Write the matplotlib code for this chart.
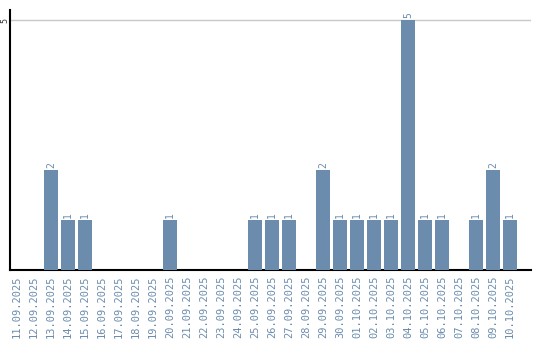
import matplotlib
matplotlib.use("Agg")
import matplotlib.pyplot as plt

dates = ["11.09.2025", "12.09.2025", "13.09.2025", "14.09.2025", "15.09.2025",
         "16.09.2025", "17.09.2025", "18.09.2025", "19.09.2025", "20.09.2025",
         "21.09.2025", "22.09.2025", "23.09.2025", "24.09.2025", "25.09.2025",
         "26.09.2025", "27.09.2025", "28.09.2025", "29.09.2025", "30.09.2025",
         "01.10.2025", "02.10.2025", "03.10.2025", "04.10.2025", "05.10.2025",
         "06.10.2025", "07.10.2025", "08.10.2025", "09.10.2025", "10.10.2025"]
counts = [0, 0, 2, 1, 1, 0, 0, 0, 0, 1,
          0, 0, 0, 0, 1, 1, 1, 0, 2, 1,
          1, 1, 1, 5, 1, 1, 0, 1, 2, 1]

bar_color = "#6b8cad"
text_color = "#6b8cad"

fig = plt.figure(figsize=(5.4, 3.4), dpi=100)
ax = fig.add_axes([10.3 / 540, 70 / 340, 520.4 / 540, 260 / 340])

x = list(range(len(dates)))
ax.bar(x, counts, width=0.82, color=bar_color, zorder=3)
for xi, c in zip(x, counts):
    if c > 0:
        ax.text(xi, c + 0.05, str(c), rotation=90, ha="center", va="bottom",
                fontsize=7, color=text_color, family="DejaVu Sans Mono")

ax.set_xlim(-0.39, 30.22)
ax.set_ylim(0, 5.2)
ax.set_yticks([5])
ax.set_yticklabels(["5"], rotation=90, va="center", fontsize=6,
                   family="DejaVu Sans Mono", color="#333333")
ax.axhline(5, color="#c8c8c8", linewidth=1, zorder=1)
ax.set_xticks(x)
ax.set_xticklabels(dates, rotation=90, fontsize=7.5, color=text_color,
                   family="DejaVu Sans Mono")
ax.tick_params(axis="both", length=0, pad=4)
ax.tick_params(axis="y", pad=1)

for s in ["top", "right"]:
    ax.spines[s].set_visible(False)
for s in ["left", "bottom"]:
    ax.spines[s].set_linewidth(1.5)
    ax.spines[s].set_color("black")

fig.savefig("out.png", dpi=100)
